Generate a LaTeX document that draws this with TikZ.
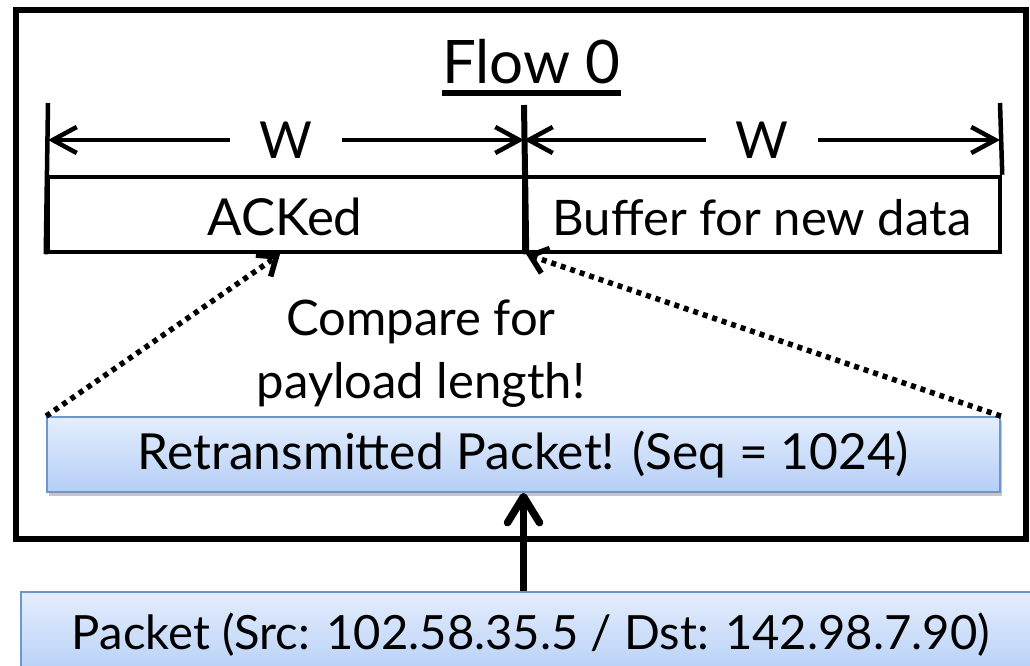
\documentclass[tikz,border=0pt]{standalone}
\usepackage{fontspec}
\setmainfont{Lato}
\usetikzlibrary{arrows.meta,shadows,calc}
\definecolor{boxtop}{HTML}{E4EEFD}
\definecolor{boxbot}{HTML}{B5CEF6}
\definecolor{boxedge}{HTML}{6E96CA}
\begin{document}
\begin{tikzpicture}[x=1pt,y=-1pt,
  frame/.style={draw,line width=5.5pt,inner sep=0pt},
  cell/.style={draw,line width=4.5pt,inner sep=0pt,minimum height=75pt},
  tick/.style={line width=4.5pt},
  midtick/.style={line width=6pt},
  dimarrow/.style={line width=4.5pt,
    {Straight Barb[length=24pt,width=26pt]}-{Straight Barb[length=24pt,width=26pt]}},
  wlabel/.style={fill=white,inner xsep=30pt,inner ysep=3pt,font=\fontsize{51}{60}\selectfont},
  dotarrow/.style={line width=5.5pt,dash pattern=on 5pt off 5pt,
    -{Straight Barb[length=16pt,width=26pt]}},
  uparrow/.style={line width=7.5pt,-{Straight Barb[length=26pt,width=32pt,round]}},
  bluebox/.style={draw=boxedge,line width=1.8pt,top color=boxtop,bottom color=boxbot,
    inner sep=0pt,drop shadow={shadow xshift=1.5pt,shadow yshift=-4pt,fill=black,opacity=0.22}},
  celltext/.style={inner sep=0pt,anchor=base}
  ]
\useasboundingbox (0,0) rectangle (1030,665);

% outer frame of the flow state
\node[frame,minimum width=1010pt,minimum height=529pt] (flowframe) at (521,274.5) {};
\node[inner sep=0pt,anchor=base,font=\fontsize{60}{70}\selectfont] (title) at (531.5,83) {Flow 0};
\draw[line width=6pt] ($(title.base west)+(0,10)$) -- ($(title.base east)+(0,10)$);

% window cells
\node[cell,minimum width=476pt] (acked) at (286,214.5) {};
\node[cell,minimum width=476pt] (buffer) at (762,214.5) {};
\node[celltext,font=\fontsize{51}{60}\selectfont] (ackedtext) at (285,235) {ACKed};
\node[celltext,font=\fontsize{49}{60}\selectfont] (buffertext) at (762,235) {Buffer for new data};

% window boundaries
\coordinate (lt) at (48,103);
\coordinate (mt) at (524,105);
\coordinate (rt) at (1000,103);
\draw[tick] (lt) -- (acked.south west);
\draw[midtick] (mt) -- (acked.south east);
\draw[tick] (rt) -- (buffer.north east);

% window widths
\draw[dimarrow] (48,140) -- node[wlabel] (w1) {W} (524,140);
\draw[dimarrow] (524,140) -- node[wlabel] (w2) {W} (1000,140);

% comparison note
\node[align=center,inner sep=0pt,anchor=base,font=\fontsize{49}{63}\selectfont] (note) at (421,398)
  {Compare for\\payload length!};

% packets
\node[bluebox,minimum width=953pt,minimum height=75pt,font=\fontsize{49.7}{56}\selectfont]
  (retrans) at (523.5,454.5) {Retransmitted Packet! (Seq = 1024)};
\node[bluebox,minimum width=1020pt,minimum height=86pt,font=\fontsize{47.2}{56}\selectfont]
  (packet) at (531,635) {Packet (Src: 102.58.35.5 / Dst: 142.98.7.90)};

% connectors
\draw[dotarrow] (retrans.north west) -- ([xshift=-6pt]acked.south);
\draw[dotarrow] (retrans.north east) -- (acked.south east);
\draw[uparrow] (packet.north -| retrans.south) -- (retrans.south);
\end{tikzpicture}
\end{document}
